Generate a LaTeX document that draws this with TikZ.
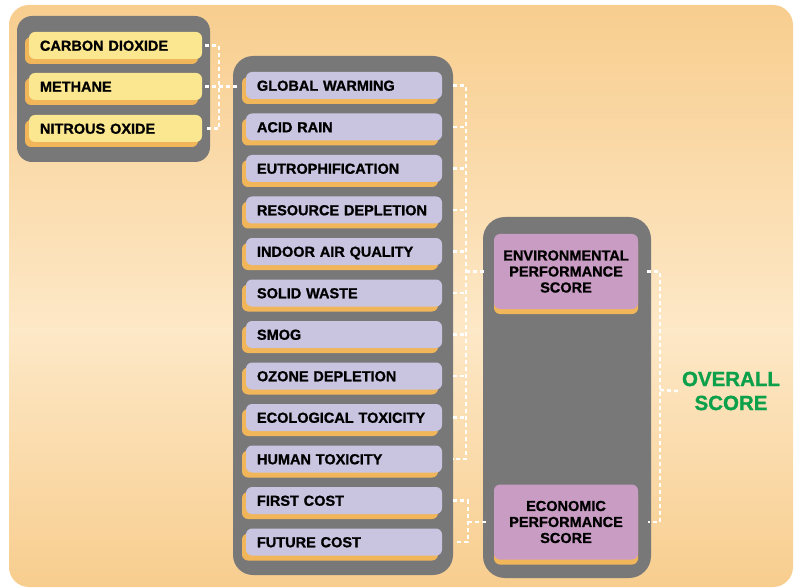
\documentclass[tikz,border=0pt]{standalone}
\usepackage{fontspec}
\setmainfont{Liberation Sans}[BoldFeatures={FakeBold=1.1}]
\usetikzlibrary{shadows}

\definecolor{bgorange}{HTML}{F7CA87}
\definecolor{bglight}{HTML}{FDE8C7}
\definecolor{groupgray}{HTML}{787878}
\definecolor{gasyellow}{HTML}{FBE78F}
\definecolor{impactblue}{HTML}{C9C5E1}
\definecolor{scoremauve}{HTML}{C99DC3}
\definecolor{tabshadow}{HTML}{F2B65A}
\definecolor{scoregreen}{HTML}{0CA04A}

\begin{document}
\begin{tikzpicture}[x=1pt, y=-1pt,
     every node/.style = {font=\fontsize{14.5}{16}\selectfont\bfseries},
     tab/.style = {rounded corners=6pt, minimum height=27pt, text width=#1,
         align=left, inner xsep=11pt, text height=10.5pt, text depth=0pt,
         general shadow={fill=tabshadow, shadow xshift=-4pt, shadow yshift=-5pt}},
     gas/.style = {tab=151pt, fill=gasyellow},
     impact/.style = {tab=174pt, fill=impactblue},
     score/.style = {rounded corners=6pt, fill=scoremauve, minimum width=144pt,
         minimum height=75pt, align=center,
         general shadow={fill=tabshadow, shadow yshift=-5pt}},
     group/.style = {fill=groupgray},
     link/.style = {draw=white, line width=2.5pt, dash pattern=on 4pt off 3pt}]

    \useasboundingbox (0,0) rectangle (795,588);

    % background card, darker at top and bottom
    \begin{scope}
        \clip[rounded corners=20pt] (9,5) rectangle (793,587);
        \shade[top color=bgorange, bottom color=bglight] (9,-40) rectangle (793,330);
        \shade[top color=bglight, bottom color=bgorange] (9,330) rectangle (793,620);
    \end{scope}

    \fill[group, rounded corners=15pt] (17,16) rectangle (210,162);
    \fill[group, rounded corners=20pt] (233,56) rectangle (453,575);
    \fill[group, rounded corners=22pt] (483,217) rectangle (651,578);

    \node [gas] (co2) at (115.5,45.5) {CARBON DIOXIDE};
    \node [gas] (ch4) at (115.5,86.5) {METHANE};
    \node [gas] (n2o) at (115.5,128.5) {NITROUS OXIDE};

    \foreach \name/\label [count=\i from 0] in {gw/GLOBAL WARMING, ar/ACID RAIN,
        eu/EUTROPHIFICATION, rd/RESOURCE DEPLETION, iaq/INDOOR AIR QUALITY,
        sw/SOLID WASTE, smog/SMOG, od/OZONE DEPLETION, et/ECOLOGICAL TOXICITY,
        ht/HUMAN TOXICITY, fc/FIRST COST, fu/FUTURE COST}
        \node [impact] (\name) at (344,85.5+41.5*\i) {\label};

    \node [score] (env) at (566,271.5) {ENVIRONMENTAL\\PERFORMANCE\\SCORE};
    \node [score] (econ) at (566,522) {ECONOMIC\\PERFORMANCE\\SCORE};

    \node [font=\fontsize{20.5}{24}\selectfont\bfseries, text=scoregreen,
        align=center, inner sep=0pt] (overall) at (731,391) {OVERALL\\SCORE};

    % joints of the dashed brackets
    \coordinate (gasjoin) at (219,86.5);
    \coordinate (envjoin) at (466,271.5);
    \coordinate (costjoin) at (468,522);
    \coordinate (overjoin) at (660,390);

    \draw[link] ([xshift=3pt]co2.east) -| (gasjoin) |- ([xshift=5pt]n2o.east);
    \draw[link] ([xshift=3pt]ch4.east) -- ([xshift=-8pt]ch4.east -| gw.west);

    \draw[link] ([xshift=11pt]gw.east) -| (envjoin) |- ([xshift=11pt]ht.east);
    \foreach \name in {ar,eu,rd,iaq,sw,smog,od,et}
        \draw[link] ([xshift=11pt]\name.east) -- (\name.east -| envjoin);
    \draw[link] (envjoin) -- ([xshift=-7pt]env.west);

    \draw[link] ([xshift=11pt]fc.east) -| (costjoin) |- ([xshift=14pt]fu.east);
    \draw[link] (costjoin) -- ([xshift=-6pt]econ.west);

    \draw[link] ([xshift=9pt]env.east) -| (overjoin) |- ([xshift=10pt]econ.east);
    \draw[link] (overjoin) -- ([xshift=-4pt]overall.west);
\end{tikzpicture}
\end{document}
